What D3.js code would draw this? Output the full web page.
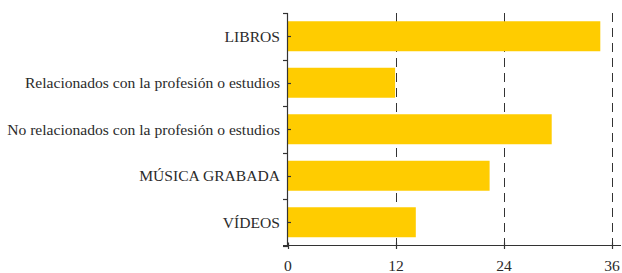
<!DOCTYPE html>
<html>
<head>
<meta charset="utf-8">
<script src="https://cdn.jsdelivr.net/npm/d3@7/dist/d3.min.js"></script>
<style>
  html, body { margin: 0; padding: 0; background: #fff; }
  svg { display: block; }
</style>
</head>
<body>
<svg id="chart" width="622" height="273"></svg>
<script>
const categories = [
  "LIBROS",
  "Relacionados con la profesión o estudios",
  "No relacionados con la profesión o estudios",
  "MÚSICA GRABADA",
  "VÍDEOS"
];
const values = [34.7, 11.9, 29.3, 22.4, 14.2];
const xTicks = [0, 12, 24, 36];
const gridTicks = [12, 24, 36];

const FONT = "'Liberation Serif', 'Times New Roman', serif";
const svg = d3.select("#chart");
const x0 = 288, x1 = 612, yTop = 13, yBot = 245.5;

const x = d3.scaleLinear().domain([0, 36]).range([x0, x1]);
const y = d3.scaleBand().domain(categories).range([yTop, yBot]).padding(0);
const barH = y.bandwidth() * 0.645;
const axisColor = "#333";

// gridlines
svg.append("g").selectAll("line").data(gridTicks).join("line")
  .attr("x1", d => Math.round(x(d)) + 0.5).attr("x2", d => Math.round(x(d)) + 0.5)
  .attr("y1", yTop).attr("y2", yBot)
  .attr("stroke", axisColor).attr("stroke-width", 1)
  .attr("stroke-dasharray", "9,6");

// bars
svg.append("g").selectAll("rect").data(categories).join("rect")
  .attr("x", x(0))
  .attr("y", d => y(d) + (y.bandwidth() - barH) / 2)
  .attr("width", (d, i) => x(values[i]) - x(0))
  .attr("height", barH)
  .attr("fill", "#FFCC00");

// y axis line
svg.append("line")
  .attr("x1", x0 - 0.5).attr("x2", x0 - 0.5)
  .attr("y1", yTop).attr("y2", yBot)
  .attr("stroke", axisColor).attr("stroke-width", 1.2);

// y boundary ticks (left)
const bounds = categories.map(c => y(c)).concat([yBot]);
svg.append("g").selectAll("line").data(bounds).join("line")
  .attr("x1", x0 - 5).attr("x2", x0)
  .attr("y1", d => Math.round(d) + 0.5).attr("y2", d => Math.round(d) + 0.5)
  .attr("stroke", axisColor).attr("stroke-width", 1.2);

// y center ticks (right) + labels
const yc = svg.append("g");
yc.selectAll("line").data(categories).join("line")
  .attr("x1", x0).attr("x2", x0 + 3)
  .attr("y1", d => Math.round(y(d) + y.bandwidth() / 2) + 0.5)
  .attr("y2", d => Math.round(y(d) + y.bandwidth() / 2) + 0.5)
  .attr("stroke", axisColor).attr("stroke-width", 1.2);
yc.selectAll("text").data(categories).join("text")
  .attr("x", x0 - 8)
  .attr("y", d => y(d) + y.bandwidth() / 2)
  .attr("dy", "0.35em")
  .attr("text-anchor", "end")
  .attr("font-family", FONT)
  .attr("font-size", "15.6px")
  .attr("fill", "#2b2b2b")
  .text(d => d);

// x axis
svg.append("line")
  .attr("x1", 283).attr("x2", 621)
  .attr("y1", yBot).attr("y2", yBot)
  .attr("stroke", axisColor).attr("stroke-width", 1.2);
const xa = svg.append("g");
xa.selectAll("line").data(xTicks).join("line")
  .attr("x1", d => Math.round(x(d)) + 0.5).attr("x2", d => Math.round(x(d)) + 0.5)
  .attr("y1", yBot - 3).attr("y2", yBot + 3.5)
  .attr("stroke", axisColor).attr("stroke-width", 1.2);
xa.selectAll("text").data(xTicks).join("text")
  .attr("x", d => x(d))
  .attr("y", 271)
  .attr("text-anchor", "middle")
  .attr("font-family", FONT)
  .attr("font-size", "15.6px")
  .attr("fill", "#2b2b2b")
  .text(d => d);
</script>
</body>
</html>
